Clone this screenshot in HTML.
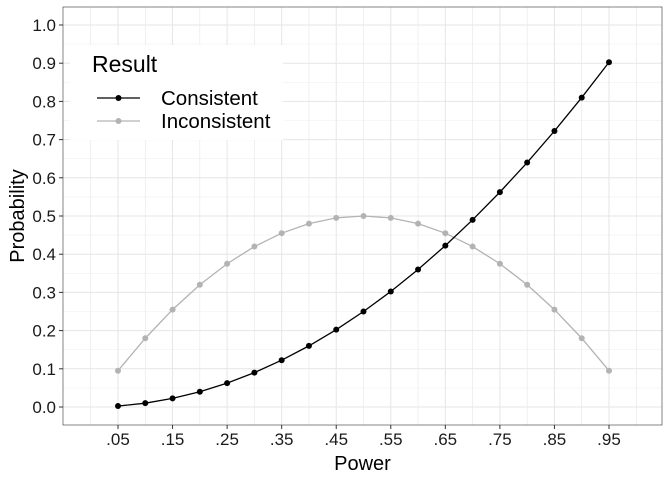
<!DOCTYPE html>
<html><head><meta charset="utf-8"><style>
body{margin:0;background:#fff;font-family:"Liberation Sans",Arial,sans-serif}
</style></head><body>
<svg id="chart" width="672" height="480" xmlns="http://www.w3.org/2000/svg"></svg>
<script>
const categories=[".05",".10",".15",".20",".25",".30",".35",".40",".45",".50",".55",".60",".65",".70",".75",".80",".85",".90",".95"];
const xTickLabels=[".05",".15",".25",".35",".45",".55",".65",".75",".85",".95"];
const consistent=[0.0025,0.01,0.0225,0.04,0.0625,0.09,0.1225,0.16,0.2025,0.25,0.3025,0.36,0.4225,0.49,0.5625,0.64,0.7225,0.81,0.9025];
const inconsistent=[0.095,0.18,0.255,0.32,0.375,0.42,0.455,0.48,0.495,0.5,0.495,0.48,0.455,0.42,0.375,0.32,0.255,0.18,0.095];
const yTicks=[0,0.1,0.2,0.3,0.4,0.5,0.6,0.7,0.8,0.9,1.0];
const yTickLabels=["0.0","0.1","0.2","0.3","0.4","0.5","0.6","0.7","0.8","0.9","1.0"];

const svg=document.getElementById('chart');
const NS="http://www.w3.org/2000/svg";
const L=63,R=662,T=7,B=425;
const xs=i=>118+i*(609-118)/18;
const ys=v=>407-v*382;
function mk(tag,attrs,parent){const e=document.createElementNS(NS,tag);for(const k in attrs)e.setAttribute(k,attrs[k]);(parent||svg).appendChild(e);return e;}

const grid=mk('g',{});


for(let v=-0.05;v<=1.05;v+=0.05){const y=ys(v);if(y<T||y>B)continue;const major=Math.abs(Math.round(v*10)-v*10)<1e-6;
 mk('line',{x1:L,x2:R,y1:y,y2:y,stroke:major?'#e6e6e6':'#f0f0f0','stroke-width':major?1:0.6},grid);}
for(let i=-1;i<=19;i++){const x=xs(i);if(x<L||x>R)continue;
 mk('line',{x1:x,x2:x,y1:T,y2:B,stroke:'#e6e6e6','stroke-width':i%2===0?1:0.6},grid);}
const panel=mk('rect',{x:L,y:T,width:R-L,height:B-T,fill:'none',stroke:'#333','stroke-width':0.6});



function series(vals,color,name){
 const g=mk('g',{});
 
 
 const pl=mk('polyline',{points:vals.map((v,i)=>xs(i)+','+ys(v)).join(' '),fill:'none',stroke:color,'stroke-width':1.3},g);
 
 
 vals.forEach((v,i)=>{const c=mk('circle',{cx:xs(i),cy:ys(v),r:3,fill:color},g);
  
  });
}
series(inconsistent,'#b3b3b3','inconsistent');
series(consistent,'#000000','consistent');

yTicks.forEach((v,i)=>{const y=ys(v);
 mk('line',{x1:L-4,x2:L,y1:y,y2:y,stroke:'#333'});
 const t=mk('text',{x:L-7,y:y+6,'text-anchor':'end','font-size':17,fill:'#1a1a1a'});t.textContent=yTickLabels[i];
 
 });
xTickLabels.forEach(lab=>{const i=categories.indexOf(lab);const x=xs(i);
 mk('line',{x1:x,x2:x,y1:B,y2:B+4,stroke:'#333'});
 const t=mk('text',{x:x,y:B+20,'text-anchor':'middle','font-size':17,fill:'#1a1a1a'});t.textContent=lab;
 
 });

const xt=mk('text',{x:(L+R)/2,y:470,'text-anchor':'middle','font-size':20});xt.textContent='Power';


const yt=mk('text',{x:0,y:0,'text-anchor':'middle','font-size':20,transform:'translate(24,'+((T+B)/2)+') rotate(-90)'});yt.textContent='Probability';



const lg=mk('g',{});


mk('rect',{x:70,y:45,width:213,height:95,fill:'#fff'},lg);
const lt=mk('text',{x:92,y:72,'font-size':23},lg);lt.textContent='Result';


[['Consistent','#000',98],['Inconsistent','#b3b3b3',121]].forEach(([n,c,y])=>{
 const e=mk('g',{},lg);
 
 
 mk('line',{x1:97,x2:140,y1:y,y2:y,stroke:c,'stroke-width':1.3},e);
 mk('circle',{cx:118.5,cy:y,r:3,fill:c},e);
 const t=mk('text',{x:161,y:y+7,'font-size':20.5},e);t.textContent=n;});
</script>
</body></html>
